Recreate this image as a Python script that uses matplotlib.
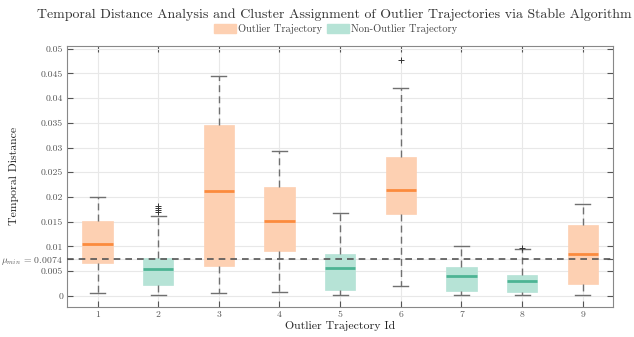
import numpy as np
import matplotlib
matplotlib.use("Agg")
import matplotlib.pyplot as plt
from matplotlib.patches import Patch

plt.rcParams['font.family'] = 'serif'
plt.rcParams['font.serif'] = ['cmr10', 'DejaVu Serif']
plt.rcParams['mathtext.fontset'] = 'cm'
plt.rcParams['axes.unicode_minus'] = False

# box stats
ids = [1, 2, 3, 4, 5, 6, 7, 8, 9]
is_outlier = [True, False, True, True, False, True, False, False, True]
whislo = [0.0005, 0.0001, 0.0005, 0.0008, 0.0002, 0.0019, 0.0001, 0.0001, 0.0001]
q1 = [0.0066, 0.0022, 0.0060, 0.0090, 0.0011, 0.0165, 0.0009, 0.0007, 0.0023]
med = [0.0105, 0.0055, 0.0213, 0.0151, 0.0056, 0.0215, 0.0040, 0.0030, 0.0085]
q3 = [0.0151, 0.0077, 0.0345, 0.0220, 0.0084, 0.0281, 0.0059, 0.0042, 0.0143]
whishi = [0.0199, 0.0161, 0.0444, 0.0293, 0.0167, 0.0421, 0.0101, 0.0095, 0.0186]
fliers = [[], [0.0170, 0.0173, 0.0177, 0.0182], [], [], [], [0.0478], [], [0.0097], []]
mu_min = 0.0074
yticks = [0, 0.005, 0.01, 0.015, 0.02, 0.025, 0.03, 0.035, 0.04, 0.045, 0.05]

c_out_fill, c_out_med = '#fdd0b2', '#fb8b3e'
c_non_fill, c_non_med = '#b6e3d6', '#4db494'

stats = []
for i in range(len(ids)):
    stats.append(dict(label=str(ids[i]), whislo=whislo[i], q1=q1[i], med=med[i],
                      q3=q3[i], whishi=whishi[i], fliers=fliers[i]))

fig = plt.figure(figsize=(6.34, 3.37), dpi=100)
ax = fig.add_axes([0.106, 0.09, 0.861, 0.773])

bp = ax.bxp(stats, positions=ids, widths=0.5, capwidths=0.25, patch_artist=True,
            whiskerprops=dict(color='#707070', linestyle=(0, (5, 3)), linewidth=1.0),
            capprops=dict(color='#707070', linewidth=1.0),
            flierprops=dict(marker='+', markeredgecolor='#333333', markersize=4, markeredgewidth=0.7),
            medianprops=dict(linewidth=2.0))
for i, b in enumerate(bp['boxes']):
    fc = c_out_fill if is_outlier[i] else c_non_fill
    b.set_facecolor(fc)
    b.set_edgecolor(fc)
    b.set_linewidth(0.5)
    bp['medians'][i].set_color(c_out_med if is_outlier[i] else c_non_med)

ax.axhline(mu_min, color='#555555', linestyle=(0, (4, 3)), linewidth=1.2, zorder=5)

ax.set_xlim(0.5, 9.5)
ax.set_ylim(-0.0022, 0.0505)
ax.set_yticks(yticks + [mu_min])
ax.set_yticklabels([f'{t:g}' for t in yticks] + [r'$\mu_{min}$ = 0.0074'])
ax.set_xticks(ids)
ax.set_xticklabels([str(i) for i in ids])
ax.tick_params(direction='in', top=True, right=True, labelsize=7, colors='#555555',
               labelcolor='#555555', length=4, pad=3)
ax.grid(True, color='#e8e8e8', linewidth=0.8)
ax.set_axisbelow(True)
for s in ax.spines.values():
    s.set_color('#888888')

ax.set_xlabel('Outlier Trajectory Id', fontsize=8.5, color='#222222')
ax.xaxis.set_label_coords(0.5, -0.055)
ax.set_ylabel('Temporal Distance', fontsize=8.5, color='#222222')
ax.yaxis.set_label_coords(-0.088, 0.5)
fig.suptitle('Temporal Distance Analysis and Cluster Assignment of Outlier Trajectories via Stable Algorithm',
             fontsize=10, x=0.528, y=0.975, color='#333333')

handles = [Patch(facecolor=c_out_fill, edgecolor=c_out_fill, label='Outlier Trajectory'),
           Patch(facecolor=c_non_fill, edgecolor=c_non_fill, label='Non-Outlier Trajectory')]
fig.legend(handles=handles, loc='center', bbox_to_anchor=(0.529, 0.914), ncol=2, frameon=False,
           fontsize=7.5, handlelength=2.1, handleheight=1.0, columnspacing=0.5, handletextpad=0.2,
           labelcolor='#444444')

fig.savefig('out.png', dpi=100)
